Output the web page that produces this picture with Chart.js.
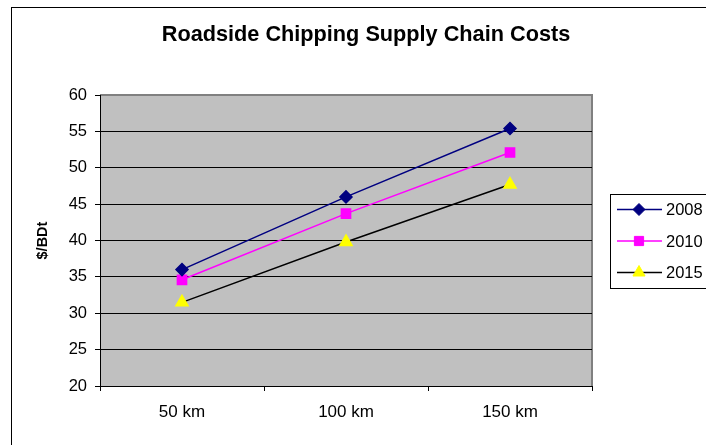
<!DOCTYPE html>
<html>
<head>
<meta charset="utf-8">
<title>Roadside Chipping Supply Chain Costs</title>
<script src="https://cdn.jsdelivr.net/npm/chart.js@4.4.1/dist/chart.umd.min.js"></script>
<style>
  html, body { margin: 0; padding: 0; background: #fff; }
  #wrap { width: 706px; height: 445px; }
</style>
</head>
<body>
<div id="wrap"><canvas id="costChart" width="706" height="445"></canvas></div>
<script>
const categories = ['50 km', '100 km', '150 km'];
const seriesNames = ['2008', '2010', '2015'];
const costs2008 = [36.0, 46.0, 55.4];
const costs2010 = [34.6, 43.7, 52.1];
const costs2015 = [31.5, 39.8, 47.7];
const yTicks = [20, 25, 30, 35, 40, 45, 50, 55, 60];

const FONT = 'Arial, "Liberation Sans", sans-serif';

// marker shape used both on the plot and in the side legend
function drawMarker(ctx, style, x, y, r, fill, stroke) {
    ctx.save();
    ctx.fillStyle = fill;
    ctx.strokeStyle = stroke;
    ctx.lineWidth = 1;
    ctx.beginPath();
    if (style === 'rectRot') {
        ctx.moveTo(x, y - r); ctx.lineTo(x + r, y); ctx.lineTo(x, y + r); ctx.lineTo(x - r, y);
    } else if (style === 'rect') {
        const s = r * Math.SQRT1_2;
        ctx.rect(x - s, y - s, 2 * s, 2 * s);
    } else {
        for (let i = 0; i < 3; i++) {
            const a = i * 2 * Math.PI / 3;
            const px = x + Math.sin(a) * r, py = y - Math.cos(a) * r;
            i === 0 ? ctx.moveTo(px, py) : ctx.lineTo(px, py);
        }
    }
    ctx.closePath();
    ctx.fill();
    ctx.stroke();
    ctx.restore();
}

const frame = {
    id: 'frame',
    beforeDraw(chart) {
        const { ctx, chartArea: a } = chart;
        ctx.save();
        ctx.fillStyle = '#fff';
        ctx.fillRect(0, 0, chart.width, chart.height);
        ctx.strokeStyle = '#000';
        ctx.lineWidth = 1;
        ctx.strokeRect(11.5, 7.5, 900, 600);
        ctx.fillStyle = '#c0c0c0';
        ctx.fillRect(a.left, a.top, a.right - a.left, a.bottom - a.top);
        ctx.strokeStyle = '#808080';
        ctx.lineWidth = 2;
        ctx.beginPath();
        ctx.moveTo(a.left, a.top);
        ctx.lineTo(a.right, a.top);
        ctx.lineTo(a.right, a.bottom);
        ctx.stroke();
        ctx.restore();
    }
};

const sideLegend = {
    id: 'sideLegend',
    afterDraw(chart) {
        const { ctx } = chart;
        const x0 = 610, y0 = 194, h = 94;
        ctx.save();
        ctx.fillStyle = '#fff';
        ctx.fillRect(x0, y0, 120, h);
        ctx.strokeStyle = '#000';
        ctx.lineWidth = 1;
        ctx.strokeRect(x0 + 0.5, y0 + 0.5, 120, h);
        ctx.font = '16.5px ' + FONT;
        ctx.textBaseline = 'middle';
        chart.data.datasets.forEach((ds, i) => {
            const y = y0 + 15.5 + i * 31.5;
            ctx.strokeStyle = ds.borderColor;
            ctx.lineWidth = 1.5;
            ctx.beginPath();
            ctx.moveTo(617, y);
            ctx.lineTo(662, y);
            ctx.stroke();
            drawMarker(ctx, ds.pointStyle, 639, y, ds.pointRadius, ds.pointBackgroundColor, ds.pointBorderColor);
            ctx.fillStyle = '#000';
            ctx.fillText(ds.label, 666, y + 1);
        });
        ctx.restore();
    }
};

new Chart(document.getElementById('costChart'), {
    type: 'line',
    data: {
        labels: categories,
        datasets: [
            {
                label: seriesNames[0], data: costs2008,
                borderColor: '#000080', borderWidth: 1.5,
                pointStyle: 'rectRot', pointRadius: 6,
                pointBackgroundColor: '#000080', pointBorderColor: '#000080'
            },
            {
                label: seriesNames[1], data: costs2010,
                borderColor: '#ff00ff', borderWidth: 1.5,
                pointStyle: 'rect', pointRadius: 6.5,
                pointBackgroundColor: '#ff00ff', pointBorderColor: '#ff00ff'
            },
            {
                label: seriesNames[2], data: costs2015,
                borderColor: '#000000', borderWidth: 1.5,
                pointStyle: 'triangle', pointRadius: 7,
                pointBackgroundColor: '#ffff00', pointBorderColor: '#ffff00'
            }
        ]
    },
    options: {
        responsive: false,
        animation: false,
        layout: { padding: { left: 26, right: 0, top: 0, bottom: 0 } },
        elements: { line: { tension: 0 } },
        plugins: {
            legend: { display: false },
            tooltip: { enabled: false },
            title: {
                display: true,
                text: 'Roadside Chipping Supply Chain Costs',
                color: '#000',
                font: { family: FONT, size: 21.7, weight: 'bold' },
                padding: { top: 22, bottom: 47 }
            }
        },
        scales: {
            x: {
                offset: true,
                grid: { offset: true, drawOnChartArea: false, drawTicks: true, tickLength: 5, color: '#000' },
                border: { color: '#000', width: 1 },
                ticks: { color: '#000', font: { family: FONT, size: 17 }, padding: 11, maxRotation: 0 },
                afterFit(scale) { scale.height = 59; }
            },
            y: {
                min: 20, max: 60,
                afterBuildTicks(scale) { scale.ticks = yTicks.map(v => ({ value: v })); },
                grid: {
                    color: ctx => (ctx.tick && ctx.tick.value === 60 ? '#808080' : '#000'),
                    tickColor: '#000', tickLength: 5, lineWidth: 1
                },
                border: { color: '#000', width: 1 },
                ticks: { color: '#000', font: { family: FONT, size: 16.5 }, padding: 8 },
                title: {
                    display: true, text: '$/BDt', color: '#000',
                    font: { family: FONT, size: 14.5, weight: 'bold' },
                    padding: { top: 8, bottom: 0 }
                },
                afterFit(scale) { scale.width = 74; }
            },
            // empty column on the right that leaves room for the legend box
            side: {
                axis: 'y', position: 'right', display: true,
                grid: { display: false, drawTicks: false },
                border: { display: false },
                ticks: { display: false },
                afterFit(scale) { scale.width = 114; }
            }
        }
    },
    plugins: [frame, sideLegend]
});
</script>
</body>
</html>
